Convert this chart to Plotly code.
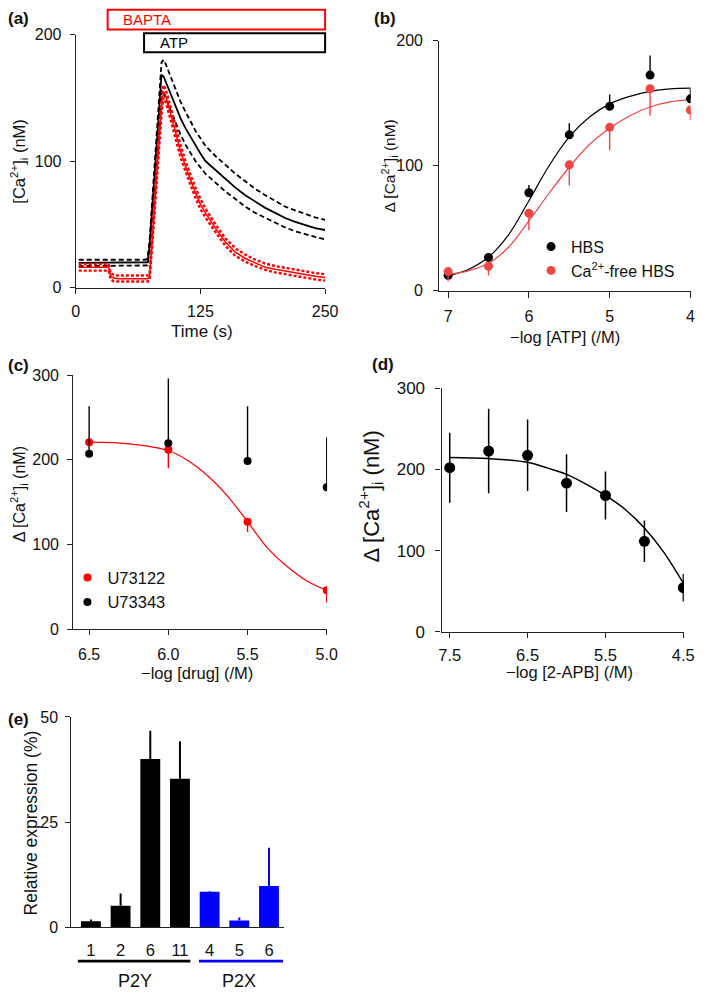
import plotly.graph_objects as go

W, H = 709, 996
FONT = "Liberation Sans, Arial, sans-serif"
RED = "#ff0000"
RED_B = "#ef4545"
BLUE = "#0000ff"
AX = "#222222"

# ---------------- (a) time course ----------------
time_s = [3, 10, 20, 30, 33, 35, 38, 42, 50, 60, 70, 72, 74, 76, 78, 80, 82, 84, 86, 88, 90,
          95, 100, 105, 110, 115, 120, 125, 130, 140, 150, 160, 170, 180, 190, 200, 210,
          220, 230, 240, 250]
ctrl_mean = [19.5, 19.5, 19.5, 19.5, 19.5, 19.5, 19.5, 19.5, 19.5, 19.5, 19.5, 20, 33, 56, 79,
             102, 125, 148, 168, 167, 163, 153, 143, 134, 126, 119, 112, 106, 100, 93, 86, 79,
             73, 68, 63, 59, 55, 52, 49.5, 47, 45.5]
ctrl_upper = [22, 22, 22, 22, 22, 22, 22, 22, 22, 22, 22, 23, 37, 61, 86, 110, 135, 158, 178,
              180, 177, 167, 157, 147, 139, 131, 124, 118, 112, 104, 97, 90, 84, 78, 73, 68.5,
              64, 61, 58, 55.5, 53.5]
ctrl_lower = [17, 17, 17, 17, 17, 17, 17, 17, 17, 17, 17, 17.5, 29, 51, 72, 94, 115, 137, 156,
              154, 150, 140, 130, 121, 113, 106, 100, 95, 90, 83, 76, 70, 64, 59, 55, 51, 47.5,
              44.5, 42, 40, 38]
bapta_mean = [16, 16, 16, 16, 16, 9, 7.5, 7, 7, 7, 7, 7, 8, 28, 52, 76, 100, 122, 143, 155,
              152, 138, 122, 108, 96, 85, 75, 66, 59, 47, 36, 28, 23, 19.5, 16, 14.5, 13, 11.5,
              10, 9, 8]
bapta_upper = [18.6, 18.6, 18.6, 18.6, 18.6, 11.5, 10, 9.5, 9.5, 9.5, 9.5, 9.5, 10.5, 32, 57,
               82, 106, 128, 149, 160, 157, 143, 127, 113, 100, 89, 79, 70, 62.5, 50, 39, 31,
               26, 22, 19, 17, 15.5, 14, 12.5, 11.5, 10.5]
bapta_lower = [13.4, 13.4, 13.4, 13.4, 13.4, 6.5, 5, 4.8, 4.8, 4.8, 4.8, 4.8, 5.5, 24, 47, 70,
               94, 116, 137, 150, 147, 133, 117, 103, 92, 81, 71, 62, 55.5, 44, 33, 25, 20.5,
               17, 14, 12, 10.5, 9, 7.5, 6.5, 5.5]
bapta_on, atp_on, time_end = 32, 68.5, 250

# ---------------- (b) ATP concentration-response ----------------
atp_log = [7, 6.5, 6, 5.5, 5, 4.5, 4]
hbs = [12.3, 26.7, 78.4, 124.7, 147.5, 172.5, 153.5]
hbs_err = [3, 3.3, 6.3, 9.2, 9.4, 15.7, 8]
cafree = [15.4, 19.6, 62, 100.7, 130.7, 161.6, 144.6]
cafree_err = [7.8, 7.3, 13.6, 16.5, 18.3, 21.7, 8.1]
fit_b_x = [7.0, 6.75, 6.5, 6.25, 6.0, 5.75, 5.5, 5.25, 5.0, 4.75, 4.5, 4.25, 4.0]
fit_hbs = [12, 17, 27, 45, 72, 100, 123, 139, 149.5, 155.5, 159.5, 161.5, 162]
fit_cafree = [13, 16, 22, 35, 56, 78, 99, 117, 130, 140, 147, 151, 153]

# ---------------- (c) U73122 / U73343 ----------------
drug_log = [6.5, 6.0, 5.5, 5.0]
u73122 = [220.8, 212, 127, 46]
u73122_err = [0, 22, 12.3, 14.3]
u73343 = [207.3, 219.7, 198.8, 167.6]
u73343_err = [56, 76.3, 64.5, 59]
fit_c_x = [6.5, 6.25, 6.0, 5.875, 5.75, 5.625, 5.5, 5.375, 5.25, 5.125, 5.0]
fit_c_y = [221, 219, 211, 199, 181, 157, 127, 96, 74, 57, 46]

# ---------------- (d) 2-APB ----------------
apb_log = [7.5, 7.0, 6.5, 6.0, 5.5, 5.0, 4.5]
apb = [202.2, 222.7, 217.5, 183.2, 168, 111.6, 54.4]
apb_err = [43, 52, 44, 35.5, 29.5, 25.5, 17]
fit_d_x = [7.5, 7.0, 6.5, 6.25, 6.0, 5.75, 5.5, 5.25, 5.0, 4.75, 4.5]
fit_d_y = [214.7, 213.5, 209, 202, 194, 182, 168, 151, 128, 98, 60]

# ---------------- (e) expression ----------------
recept_labels = ["1", "2", "6", "11", "4", "5", "6"]
recept_group = ["P2Y", "P2Y", "P2Y", "P2Y", "P2X", "P2X", "P2X"]
expression = [1.4, 5.1, 40.0, 35.3, 8.4, 1.6, 9.8]
expression_err = [0.4, 2.9, 6.7, 8.9, 0.2, 0.7, 9.1]


def dx(p0, p1):
    return [p0 / W, p1 / W]


def dy(top, bottom):
    return [1 - bottom / H, 1 - top / H]


fig = go.Figure()

# (a)
for ys, dash, w in [(ctrl_upper, "5px,3px", 1.8), (ctrl_lower, "5px,3px", 1.8), (ctrl_mean, None, 1.8)]:
    fig.add_trace(go.Scatter(x=time_s, y=ys, mode="lines", xaxis="x", yaxis="y", showlegend=False,
                             line=dict(color="black", width=w, dash=dash)))
for ys, dash, w in [(bapta_upper, "3px,2px", 2.4), (bapta_lower, "3px,2px", 2.4), (bapta_mean, None, 1.5)]:
    fig.add_trace(go.Scatter(x=time_s, y=ys, mode="lines", xaxis="x", yaxis="y", showlegend=False,
                             line=dict(color=RED, width=w, dash=dash)))

# (b)
fig.add_trace(go.Scatter(x=fit_b_x, y=fit_hbs, mode="lines", line=dict(color="black", width=1.2, shape="spline"),
                         xaxis="x2", yaxis="y2", showlegend=False))
fig.add_trace(go.Scatter(x=fit_b_x, y=fit_cafree, mode="lines", line=dict(color=RED_B, width=1.2, shape="spline"),
                         xaxis="x2", yaxis="y2", showlegend=False))
fig.add_trace(go.Scatter(x=atp_log, y=hbs, mode="markers", name="HBS", xaxis="x2", yaxis="y2",
                         marker=dict(color="black", size=9),
                         error_y=dict(type="data", symmetric=False, array=hbs_err, arrayminus=[0] * 7,
                                      width=0, thickness=1.4, color="black"),
                         legend="legend"))
fig.add_trace(go.Scatter(x=atp_log, y=cafree, mode="markers", name="Ca<sup>2+</sup>-free HBS", xaxis="x2", yaxis="y2",
                         marker=dict(color=RED_B, size=9),
                         error_y=dict(type="data", symmetric=False, array=[0] * 7, arrayminus=cafree_err,
                                      width=0, thickness=1.4, color=RED_B),
                         legend="legend"))

# (c)
fig.add_trace(go.Scatter(x=fit_c_x, y=fit_c_y, mode="lines", line=dict(color=RED, width=1.2, shape="spline"),
                         xaxis="x3", yaxis="y3", showlegend=False))
fig.add_trace(go.Scatter(x=drug_log, y=u73122, mode="markers", name="U73122", xaxis="x3", yaxis="y3",
                         marker=dict(color=RED, size=8),
                         error_y=dict(type="data", symmetric=False, array=[0] * 4, arrayminus=u73122_err,
                                      width=0, thickness=1.4, color=RED),
                         legend="legend2"))
fig.add_trace(go.Scatter(x=drug_log, y=u73343, mode="markers", name="U73343", xaxis="x3", yaxis="y3",
                         marker=dict(color="black", size=8),
                         error_y=dict(type="data", symmetric=False, array=u73343_err, arrayminus=[0] * 4,
                                      width=0, thickness=1.4, color="black"),
                         legend="legend2"))

# (d)
fig.add_trace(go.Scatter(x=fit_d_x, y=fit_d_y, mode="lines", line=dict(color="black", width=1.5, shape="spline"),
                         xaxis="x4", yaxis="y4", showlegend=False))
fig.add_trace(go.Scatter(x=apb_log, y=apb, mode="markers", xaxis="x4", yaxis="y4", showlegend=False,
                         marker=dict(color="black", size=11),
                         error_y=dict(type="data", array=apb_err, width=0, thickness=1.5, color="black")))

# (e)
bar_colors = ["black" if g == "P2Y" else BLUE for g in recept_group]
fig.add_trace(go.Bar(x=list(range(len(expression))), y=expression, marker=dict(color=bar_colors, line=dict(width=0)),
                     width=0.67, xaxis="x5", yaxis="y5", showlegend=False))
for grp, col in [("P2Y", "black"), ("P2X", BLUE)]:
    idx = [i for i, g in enumerate(recept_group) if g == grp]
    fig.add_trace(go.Scatter(x=idx, y=[expression[i] for i in idx], mode="markers", xaxis="x5", yaxis="y5",
                             marker=dict(size=1, color=col, opacity=0), showlegend=False,
                             error_y=dict(type="data", symmetric=False, array=[expression_err[i] for i in idx],
                                          arrayminus=[0] * len(idx), width=0, thickness=2, color=col)))

axis_common = dict(showline=True, linecolor=AX, linewidth=1.2, ticks="outside", ticklen=5, tickwidth=1.2,
                   tickcolor=AX, showgrid=False, zeroline=False, fixedrange=True,
                   tickfont=dict(family=FONT, size=16, color="#111"))

fig.update_layout(
    width=W, height=H, margin=dict(l=0, r=0, t=0, b=0),
    paper_bgcolor="white", plot_bgcolor="white",
    font=dict(family=FONT, color="#111"),
    xaxis=dict(axis_common, domain=dx(73.5, 329), range=[0, 250], tickvals=[0, 125, 250], anchor="y",
               ticklabelstandoff=4),
    yaxis=dict(axis_common, domain=dy(26, 284), range=[0, 200], tickvals=[0, 100, 200], anchor="x",
               ticklabelstandoff=5),
    xaxis2=dict(axis_common, domain=dx(446, 703.5), range=[7.109, 3.998], tickvals=[7, 6, 5, 4], anchor="y2",
                ticklabelstandoff=5, ticklen=6),
    yaxis2=dict(axis_common, domain=dy(32.3, 287.3), range=[0, 200], tickvals=[0, 100, 200], anchor="x2",
                ticklabelstandoff=7),
    xaxis3=dict(axis_common, domain=dx(71, 331), range=[6.6, 4.998], tickvals=[6.5, 6.0, 5.5, 5.0],
                ticktext=["6.5", "6.0", "5.5", "5.0"], anchor="y3", ticklabelstandoff=5),
    yaxis3=dict(axis_common, domain=dy(373.3, 632.3), range=[0, 300], tickvals=[0, 100, 200, 300], anchor="x3",
                ticklabelstandoff=5),
    xaxis4=dict(axis_common, domain=dx(448.3, 696.5), range=[7.605, 4.494], tickvals=[7.5, 6.5, 5.5, 4.5],
                ticktext=["7.5", "6.5", "5.5", "4.5"], anchor="y4", ticklabelstandoff=3,
                tickfont=dict(family=FONT, size=16.5, color="#111")),
    yaxis4=dict(axis_common, domain=dy(386.7, 635), range=[0, 300], tickvals=[0, 100, 200, 300], anchor="x4",
                ticklabelstandoff=7, tickfont=dict(family=FONT, size=17, color="#111")),
    xaxis5=dict(axis_common, domain=dx(69, 286.7), range=[-0.66, 6.5], tickvals=list(range(7)),
                ticktext=recept_labels, ticks="", anchor="y5", ticklabelstandoff=8,
                tickfont=dict(family=FONT, size=16.5, color="#111")),
    yaxis5=dict(axis_common, domain=dy(721.7, 936), range=[0, 50], tickvals=[0, 25, 50], anchor="x5",
                ticklabelstandoff=4),
    bargap=0.33,
    legend=dict(x=540 / W, y=1 - 225 / H, xanchor="left", yanchor="top", bgcolor="rgba(0,0,0,0)",
                font=dict(family=FONT, size=16, color="#111"), itemwidth=30, tracegroupgap=0),
    legend2=dict(x=65 / W, y=1 - 562 / H, xanchor="left", yanchor="top", bgcolor="rgba(0,0,0,0)",
                 font=dict(family=FONT, size=16.5, color="#111"), itemwidth=30, tracegroupgap=0),
)

# (a) BAPTA / ATP bars
fig.add_shape(type="rect", xref="x domain", yref="y domain", x0=bapta_on / 250, x1=time_end / 250,
              y0=204 / 200, y1=219.5 / 200, line=dict(color=RED, width=2), fillcolor="rgba(0,0,0,0)")
fig.add_shape(type="rect", xref="x domain", yref="y domain", x0=atp_on / 250, x1=time_end / 250,
              y0=186 / 200, y1=201 / 200, line=dict(color="black", width=2), fillcolor="rgba(0,0,0,0)")
fig.add_annotation(text="BAPTA", x=45 / 250, y=211.5 / 200, xref="x domain", yref="y domain", xanchor="left",
                   yanchor="middle", showarrow=False, font=dict(family=FONT, size=15, color=RED))
fig.add_annotation(text="ATP", x=82 / 250, y=193.5 / 200, xref="x domain", yref="y domain", xanchor="left",
                   yanchor="middle", showarrow=False, font=dict(family=FONT, size=15, color="black"))

# (e) group lines and labels
e_span = 6.5 + 0.66
for x0, x1, col in [(-0.44, 3.35, "black"), (3.64, 6.47, BLUE)]:
    fig.add_shape(type="line", xref="x5 domain", yref="y5 domain", x0=(x0 + 0.66) / e_span,
                  x1=(x1 + 0.66) / e_span, y0=-0.162, y1=-0.162, line=dict(color=col, width=2.7))
for xc, lab in [(1.5, "P2Y"), (5.0, "P2X")]:
    fig.add_annotation(text=lab, x=xc, y=-0.2, xref="x5", yref="y5 domain", yanchor="top", showarrow=False,
                       font=dict(family=FONT, size=18, color="#111"))

# axis titles and panel letters (positions in pixels)
CA = "[Ca<sup>2+</sup>]<sub>i</sub> (nM)"
titles = [
    (CA, 15, 155, 16.5, -90),
    ("Time (s)", 203, 329, 17, 0),
    ("\u0394 " + CA, 395, 160, 15.5, -90),
    ("\u2212log [ATP] (/M)", 575, 334.5, 16.5, 0),
    ("\u0394 " + CA, 15, 495, 16, -90),
    ("\u2212log [drug] (/M)", 198, 677, 16.5, 0),
    ("\u0394 " + CA, 376, 497, 22, -90),
    ("\u2212log [2-APB] (/M)", 579, 676, 16.5, 0),
    ("Relative expression (%)", 28, 830, 17.5, -90),
]
for txt, px, py, fs, ang in titles:
    fig.add_annotation(text=txt, x=px / W, y=1 - py / H, xref="paper", yref="paper", showarrow=False,
                       xanchor="center", yanchor="middle", textangle=ang,
                       font=dict(family=FONT, size=fs, color="#111"))
for lab, px, py in [("(a)", 2, 10), ("(b)", 377, 10), ("(c)", 2, 363), ("(d)", 375, 362), ("(e)", 2, 724)]:
    fig.add_annotation(text="<b>" + lab + "</b>", x=px / W, y=1 - py / H, xref="paper", yref="paper",
                       showarrow=False, xanchor="left", yanchor="middle",
                       font=dict(family=FONT, size=17, color="#111"))

fig.write_html("out.html", config={"displayModeBar": False},
               post_script="document.body.style.margin='0';document.body.style.padding='0';")
